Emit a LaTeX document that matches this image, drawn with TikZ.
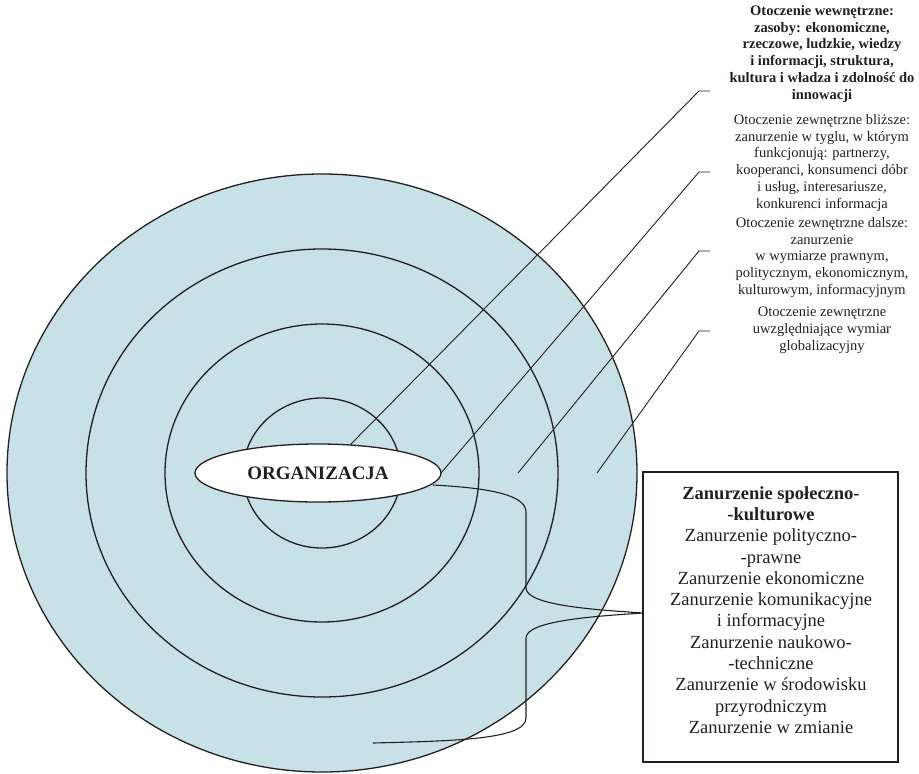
\documentclass[tikz,border=0pt]{standalone}
\usepackage{fontspec}
\setmainfont{Liberation Serif}
\usetikzlibrary{shapes.geometric}
\definecolor{ringfill}{RGB}{200,225,230}
\definecolor{ink}{RGB}{35,31,32}

\begin{document}
\begin{tikzpicture}[x=1pt,y=-1pt,
  ring/.style={ellipse, draw=ink, line width=1.3pt, inner sep=0pt, outer sep=0pt},
  leader/.style={draw=ink, line width=0.9pt},
  brace/.style={draw=ink, line width=1.1pt},
  sidelabel/.style={align=center, inner sep=0pt, text=ink,
    font=\fontsize{14.5}{16.8}\selectfont},
  boxtext/.style={align=center, inner sep=0pt, text=ink,
    font=\fontsize{18.5}{21.3}\selectfont},
  framebox/.style={draw=ink, line width=1.3pt, inner sep=0pt,
    minimum width=255pt, minimum height=290pt},
  core/.style={ellipse, draw=ink, line width=1.3pt, fill=white, inner sep=0pt,
    minimum width=246pt, minimum height=58pt, text=ink,
    font=\fontsize{19}{22}\selectfont\bfseries}
]
\useasboundingbox (0,0) rectangle (919,774);

% concentric environment rings
\node[ring, fill=ringfill, minimum width=630pt, minimum height=598pt] (ringD) at (322,473) {};
\node[ring, minimum width=472pt, minimum height=448pt] (ringC) at (322,473) {};
\node[ring, minimum width=314pt, minimum height=298pt] (ringB) at (322,473) {};
\node[ring, minimum width=158pt, minimum height=150pt] (ringA) at (322,473) {};

% descriptions of the environment layers
\node[sidelabel, font=\fontsize{14.5}{16.8}\selectfont\bfseries, anchor=north] (labA) at (822,5)
  {Otoczenie wewnętrzne:\\zasoby: ekonomiczne,\\rzeczowe, ludzkie, wiedzy\\i informacji, struktura,\\kultura i władza i zdolność do\\innowacji};
\node[sidelabel, anchor=north] (labB) at (822,114)
  {Otoczenie zewnętrzne bliższe:\\zanurzenie w tyglu, w którym\\funkcjonują: partnerzy,\\kooperanci, konsumenci dóbr\\i usług, interesariusze,\\konkurenci informacja};
\node[sidelabel, anchor=north] (labC) at (822,217)
  {Otoczenie zewnętrzne dalsze:\\zanurzenie\\w wymiarze prawnym,\\politycznym, ekonomicznym,\\kulturowym, informacyjnym};
\node[sidelabel, anchor=north] (labD) at (822,307)
  {Otoczenie zewnętrzne\\uwzględniające wymiar\\globalizacyjny};

% leader line anchor points
\coordinate (tA) at (710,91);  \coordinate (kA) at (699,91);  \coordinate (eA) at (350,445);
\coordinate (tB) at (710,172); \coordinate (kB) at (699,172); \coordinate (eB) at (441,473);
\coordinate (tC) at (710,251); \coordinate (kC) at (699,251); \coordinate (eC) at (518,473);
\coordinate (tD) at (710,331); \coordinate (kD) at (699,331); \coordinate (eD) at (597,473);

\draw[leader] (tA) -- (kA) -- (eA);
\draw[leader] (tB) -- (kB) -- (eB);
\draw[leader] (tC) -- (kC) -- (eC);
\draw[leader] (tD) -- (kD) -- (eD);

% the organisation at the centre
\node[core] (org) at (318,473) {ORGANIZACJA};

% list of embeddings
\node[framebox] (box) at (770.5,617) {};
\node[boxtext] (boxlist) at (771,610)
  {\textbf{Zanurzenie społeczno-}\\\textbf{-kulturowe}\\Zanurzenie polityczno-\\-prawne\\Zanurzenie ekonomiczne\\Zanurzenie komunikacyjne\\i informacyjne\\Zanurzenie naukowo-\\-techniczne\\Zanurzenie w środowisku\\przyrodniczym\\Zanurzenie w zmianie};

% brace linking the rings with the list
\coordinate (bTop) at (433,485);
\coordinate (bTip) at (643,613);
\coordinate (bEnd) at (373,743);
\draw[brace] (bTop) .. controls (490,488) and (526,495) .. (526,512)
  -- (526,588) .. controls (526,606) and (600,610) .. (bTip)
  .. controls (600,616) and (526,620) .. (526,638)
  -- (526,718) .. controls (526,740) and (450,741) .. (bEnd);
\end{tikzpicture}
\end{document}
